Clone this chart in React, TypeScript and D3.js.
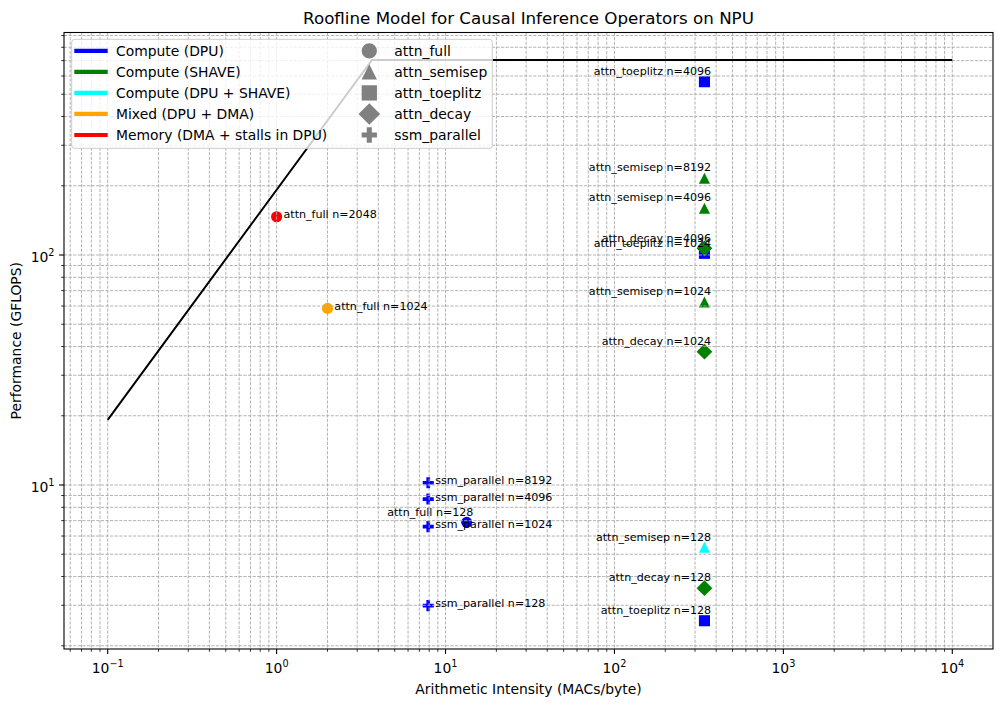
import React from "react";
import * as d3 from "d3";

// ---- Data ----
const pointOps = [
  "attn_full", "attn_full", "attn_full",
  "attn_semisep", "attn_semisep", "attn_semisep", "attn_semisep",
  "attn_toeplitz", "attn_toeplitz", "attn_toeplitz",
  "attn_decay", "attn_decay", "attn_decay",
  "ssm_parallel", "ssm_parallel", "ssm_parallel", "ssm_parallel",
];
const pointN = [
  128, 1024, 2048,
  128, 1024, 4096, 8192,
  128, 1024, 4096,
  128, 1024, 4096,
  128, 1024, 4096, 8192,
];
const pointAI = [
  13.35, 2.0, 1.0,
  341, 341, 341, 341,
  341, 341, 341,
  341, 341, 341,
  7.9, 7.9, 7.9, 7.9,
];
const pointPerf = [
  6.88, 58.6, 146.7,
  5.36, 62.5, 159.7, 215.6,
  2.57, 101.7, 567,
  3.56, 38.0, 106.9,
  2.99, 6.59, 8.69, 10.23,
];
const pointBottleneck = [
  "dpu", "mixed", "memory",
  "dpu_shave", "shave", "shave", "shave",
  "dpu", "dpu", "dpu",
  "shave", "shave", "shave",
  "dpu", "dpu", "dpu", "dpu",
];

const bottleneckKeys = ["dpu", "shave", "dpu_shave", "mixed", "memory"];
const bottleneckLabels = [
  "Compute (DPU)",
  "Compute (SHAVE)",
  "Compute (DPU + SHAVE)",
  "Mixed (DPU + DMA)",
  "Memory (DMA + stalls in DPU)",
];
const bottleneckColors = ["#0000ff", "#008000", "#00ffff", "#ffa500", "#ff0000"];

const opKeys = ["attn_full", "attn_semisep", "attn_toeplitz", "attn_decay", "ssm_parallel"];
const opMarkers = ["circle", "triangle", "square", "diamond", "plus"];

const rooflineX = [0.1, 3.67, 10000];
const rooflineY = [19.2, 705, 705];

const xMajorTicks = [0.1, 1, 10, 100, 1000, 10000];
const xTickExps = ["−1", "0", "1", "2", "3", "4"];
const yMajorTicks = [10, 100];
const yTickExps = ["1", "2"];

const TITLE = "Roofline Model for Causal Inference Operators on NPU";
const XLABEL = "Arithmetic Intensity (MACs/byte)";
const YLABEL = "Performance (GFLOPS)";

// ---- Layout ----
const W = 1004;
const H = 706;
const L = 64, R = 993, T = 32.5, B = 649;
const FONT = "'DejaVu Sans', sans-serif";

const x = d3.scaleLog().domain([Math.pow(10, -1.2587), Math.pow(10, 4.241)]).range([L, R]);
const y = d3.scaleLog().domain([Math.pow(10, 0.287), Math.pow(10, 2.9674)]).range([B, T]);

function markerPath(kind: string, size: number): string {
  const h = size / 2;
  switch (kind) {
    case "circle":
      return `M${-h},0A${h},${h} 0 1,0 ${h},0A${h},${h} 0 1,0 ${-h},0Z`;
    case "triangle":
      return `M0,${-h}L${h},${h}L${-h},${h}Z`;
    case "square":
      return `M${-h},${-h}L${h},${-h}L${h},${h}L${-h},${h}Z`;
    case "diamond": {
      const d = h * Math.SQRT2;
      return `M0,${-d}L${d},0L0,${d}L${-d},0Z`;
    }
    case "plus": {
      const u = size / 6;
      const pts = [
        [-1, -3], [1, -3], [1, -1], [3, -1], [3, 1], [1, 1], [1, 3], [-1, 3], [-1, 1], [-3, 1], [-3, -1], [-1, -1],
      ];
      return "M" + pts.map((p) => `${p[0] * u},${p[1] * u}`).join("L") + "Z";
    }
  }
  return "";
}

function minorTicks(scale: any): number[] {
  const [d0, d1] = scale.domain();
  const out: number[] = [];
  for (let e = Math.floor(Math.log10(d0)); e <= Math.ceil(Math.log10(d1)); e++) {
    for (let k = 1; k <= 9; k++) {
      const v = k * Math.pow(10, e);
      if (v >= d0 && v <= d1) out.push(v);
    }
  }
  return out;
}

export default function App() {
  const xGrid = minorTicks(x);
  const yGrid = minorTicks(y);
  const roofLine = d3
    .line<number>()
    .x((_, i) => x(rooflineX[i]))
    .y((_, i) => y(rooflineY[i]))(rooflineX.map((_, i) => i)) as string;

  const order = opKeys.flatMap((op) => pointOps.map((o, i) => (o === op ? i : -1)).filter((i) => i >= 0));

  const legX = 71.7, legY = 39.3, legW = 420.6, legH = 109;
  const rowY = (i: number) => 50.8 + i * 21.05;

  return (
    <svg width={W} height={H} style={{ position: "absolute", left: 0, top: 0, background: "#fff" }} fontFamily={FONT}>
      <rect x={0} y={0} width={W} height={H} fill="#fff" />
      <defs>
        <clipPath id="plotclip">
          <rect x={L} y={T} width={R - L} height={B - T} />
        </clipPath>
      </defs>

      {/* markers */}
      <g clipPath="url(#plotclip)">
        {order.map((i) => {
          const op = pointOps[i];
          const kind = opMarkers[opKeys.indexOf(op)];
          const color = bottleneckColors[bottleneckKeys.indexOf(pointBottleneck[i])];
          return (
            <path
              key={"m" + i}
              d={markerPath(kind, 11.1)}
              transform={`translate(${x(pointAI[i])},${y(pointPerf[i])})`}
              fill={color}
            />
          );
        })}
      </g>

      {/* grid */}
      <g stroke="#aaaaaa" strokeWidth={0.9} strokeDasharray="3.2,1.4" clipPath="url(#plotclip)">
        {xGrid.map((v, i) => (
          <line key={"gx" + i} x1={x(v)} x2={x(v)} y1={T} y2={B} />
        ))}
        {yGrid.map((v, i) => (
          <line key={"gy" + i} x1={L} x2={R} y1={y(v)} y2={y(v)} />
        ))}
      </g>

      {/* roofline */}
      <path d={roofLine} fill="none" stroke="#000" strokeWidth={2} clipPath="url(#plotclip)" />

      {/* point labels */}
      <g fontSize={11.1} fill="#000">
        {order.map((i) => {
          const px = x(pointAI[i]);
          const py = y(pointPerf[i]);
          const label = `${pointOps[i]} n=${pointN[i]}`;
          const right = pointAI[i] > 10;
          return right ? (
            <text key={"t" + i} x={px + 6.7} y={py - 10.3} textAnchor="end" dominantBaseline="central">
              {label}
            </text>
          ) : (
            <text key={"t" + i} x={px + 6.9} y={py - 1.8} textAnchor="start" dominantBaseline="central">
              {label}
            </text>
          );
        })}
      </g>

      {/* spines */}
      <rect x={L} y={T} width={R - L} height={B - T} fill="none" stroke="#000" strokeWidth={1.1} />

      {/* ticks */}
      <g stroke="#000" strokeWidth={1.1}>
        {xMajorTicks.map((v, i) => (
          <line key={"xt" + i} x1={x(v)} x2={x(v)} y1={B} y2={B + 4.9} />
        ))}
        {xGrid.filter((v) => !xMajorTicks.includes(v)).map((v, i) => (
          <line key={"xmt" + i} x1={x(v)} x2={x(v)} y1={B} y2={B + 2.8} strokeWidth={0.8} />
        ))}
        {yMajorTicks.map((v, i) => (
          <line key={"yt" + i} x1={L} x2={L - 4.9} y1={y(v)} y2={y(v)} />
        ))}
        {yGrid.filter((v) => !yMajorTicks.includes(v)).map((v, i) => (
          <line key={"ymt" + i} x1={L} x2={L - 2.8} y1={y(v)} y2={y(v)} strokeWidth={0.8} />
        ))}
      </g>

      {/* tick labels */}
      <g fontSize={13.9} fill="#000">
        {xMajorTicks.map((v, i) => (
          <text key={"xl" + i} x={x(v)} y={672.5} textAnchor="middle">
            10<tspan dy={-6} fontSize={9.7}>{xTickExps[i]}</tspan>
          </text>
        ))}
        {yMajorTicks.map((v, i) => (
          <text key={"yl" + i} x={54.5} y={y(v) + 7} textAnchor="end">
            10<tspan dy={-6} fontSize={9.7}>{yTickExps[i]}</tspan>
          </text>
        ))}
      </g>

      {/* axis labels & title */}
      <text x={(L + R) / 2} y={693.5} textAnchor="middle" fontSize={13.9}>{XLABEL}</text>
      <text
        transform={`translate(21,${(T + B) / 2}) rotate(-90)`}
        textAnchor="middle"
        fontSize={13.9}
      >
        {YLABEL}
      </text>
      <text x={(L + R) / 2} y={23.5} textAnchor="middle" fontSize={16.7}>{TITLE}</text>

      {/* legend */}
      <g>
        <rect x={legX} y={legY} width={legW} height={legH} rx={3} ry={3} fill="#fff" fillOpacity={0.8} stroke="#cccccc" strokeWidth={1} />
        {bottleneckLabels.map((lab, i) => (
          <g key={"lb" + i}>
            <line x1={74.3} x2={107.7} y1={rowY(i)} y2={rowY(i)} stroke={bottleneckColors[i]} strokeWidth={4.2} />
            <text x={116} y={rowY(i)} dominantBaseline="central" fontSize={13.9}>{lab}</text>
          </g>
        ))}
        {opKeys.map((op, i) => (
          <g key={"lo" + i}>
            <path d={markerPath(opMarkers[i], 15.3)} transform={`translate(369.3,${rowY(i)})`} fill="#808080" />
            <text x={394.3} y={rowY(i)} dominantBaseline="central" fontSize={13.9}>{op}</text>
          </g>
        ))}
      </g>
    </svg>
  );
}
